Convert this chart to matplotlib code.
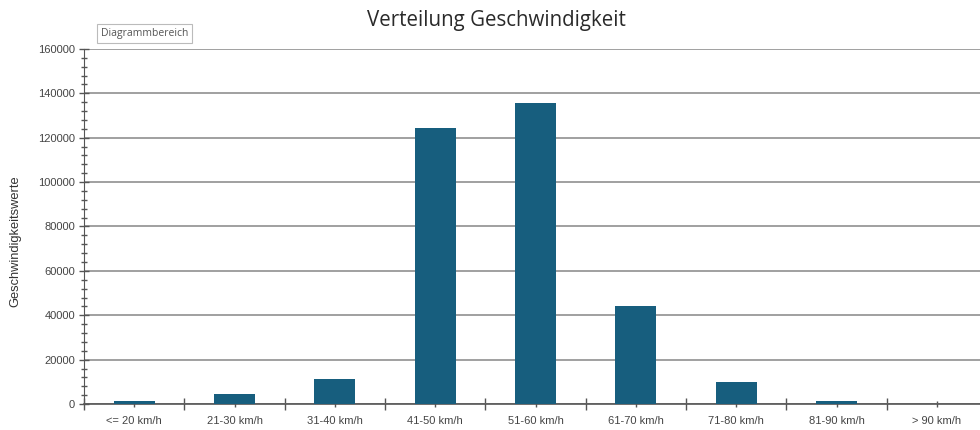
import matplotlib
matplotlib.use("Agg")
import matplotlib.pyplot as plt
from matplotlib.ticker import MultipleLocator, FixedLocator, NullFormatter

# Daten
kategorien = ['<= 20 km/h', '21-30 km/h', '31-40 km/h', '41-50 km/h', '51-60 km/h',
              '61-70 km/h', '71-80 km/h', '81-90 km/h', '> 90 km/h']
werte = [1500, 4300, 11300, 124200, 135600, 44000, 9900, 1500, 100]

plt.rcParams['font.family'] = ['Liberation Sans', 'DejaVu Sans']

fig = plt.figure(figsize=(9.8, 4.3), dpi=100)
ax = fig.add_axes([84 / 980, 26 / 430, 903 / 980, 355 / 430])

x = range(len(kategorien))
ax.bar(x, werte, width=0.41, color='#175e7e', zorder=3)

ax.set_xlim(-0.5, len(kategorien) - 0.5)
ax.set_ylim(0, 160000)

# y-Achse
ax.yaxis.set_major_locator(MultipleLocator(20000))
ax.yaxis.set_minor_locator(MultipleLocator(4000))
ax.tick_params(axis='y', which='major', direction='inout', length=7, width=1,
               color='#555555', labelsize=8, labelcolor='#444444', pad=3)
ax.tick_params(axis='y', which='minor', direction='inout', length=5, width=1, color='#555555')
ax.grid(axis='y', which='major', color='#a0a0a0', linewidth=1.4, zorder=0)

# x-Achse
ax.set_xticks(list(x))
ax.set_xticklabels(kategorien)
ax.xaxis.set_minor_locator(FixedLocator([i + 0.5 for i in range(-1, len(kategorien))]))
ax.xaxis.set_minor_formatter(NullFormatter())
ax.tick_params(axis='x', which='major', direction='inout', length=5, width=1,
               color='#555555', labelsize=8, labelcolor='#444444', pad=6)
ax.tick_params(axis='x', which='minor', direction='inout', length=8, width=1, color='#555555')

for s in ['top', 'right']:
    ax.spines[s].set_visible(False)
ax.spines['left'].set_color('#555555')
ax.spines['bottom'].set_color('#555555')
ax.spines['bottom'].set_linewidth(1.2)

fig.text(0.507, 0.953, 'Verteilung Geschwindigkeit', ha='center', va='center',
         fontsize=14.8, color='#2a2a2a', family=['Open Sans', 'DejaVu Sans'])
fig.text(0.016, 0.44, 'Geschwindigkeitswerte', rotation=90, ha='center', va='center',
         fontsize=9.3, color='#333333')

# "Diagrammbereich" Tooltip
fig.text(0.103, 0.922, 'Diagrammbereich', ha='left', va='center', fontsize=7.5,
         color='#555555', family=['Open Sans', 'DejaVu Sans'],
         bbox=dict(boxstyle='square,pad=0.4', facecolor='white', edgecolor='#bbbbbb', linewidth=0.8))

fig.savefig('out.png', dpi=100)
